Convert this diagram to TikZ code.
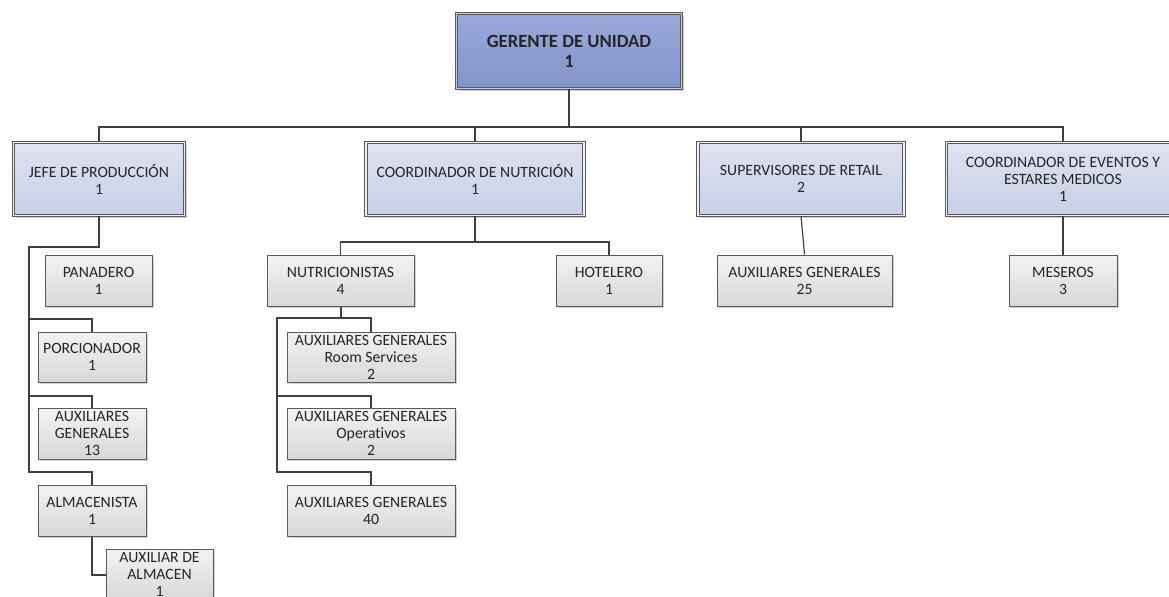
\documentclass[tikz,border=0pt]{standalone}
\usepackage{fontspec}
\setmainfont{Carlito}[Ligatures=NoCommon]
\usetikzlibrary{shadows}
\newdimen\pxu \pxu=0.75pt

\definecolor{lineclr}{HTML}{404040}
\definecolor{borderclr}{HTML}{595959}
\definecolor{topA}{HTML}{9AA9DA}
\definecolor{topB}{HTML}{8394CA}
\definecolor{midA}{HTML}{DFE3F2}
\definecolor{midB}{HTML}{C8CFE7}
\definecolor{lowA}{HTML}{F3F3F3}
\definecolor{lowB}{HTML}{D8D8D8}

\tikzset{
  box/.style={rectangle, inner sep=0pt, align=center, text=black!85,
    font=\fontsize{11.8}{12.75}\selectfont,
    drop shadow={shadow xshift=2\pxu, shadow yshift=-2\pxu, fill=black!35, opacity=0.5}},
  topbox/.style={box, font=\bfseries\fontsize{14}{15}\selectfont,
    top color=topA, bottom color=topB, draw=borderclr, line width=1\pxu,
    double=topA!60!white, double distance=1.5\pxu},
  midbox/.style={box, top color=midA, bottom color=midB, draw=borderclr,
    line width=1\pxu, double=midA!50!white, double distance=1.5\pxu},
  lowbox/.style={box, top color=lowA, bottom color=lowB, draw=borderclr,
    line width=1\pxu},
  bus/.style={draw=lineclr, line width=1.4\pxu},
  tree/.style={draw=lineclr, line width=2\pxu},
  link/.style={draw=lineclr, line width=1.2\pxu},
}

\begin{document}
\begin{tikzpicture}[x=0.75pt, y=-0.75pt]
\useasboundingbox (0,0) rectangle (1169,596);
\clip (0,0) rectangle (1169,596);

% top level
\node[topbox, minimum width=225\pxu, minimum height=75\pxu] (ger) at (569,51)
  {GERENTE DE UNIDAD\\1};

% second level
\node[midbox, minimum width=171\pxu, minimum height=73\pxu] (jefe) at (99,179)
  {JEFE DE PRODUCCIÓN\\1};
\node[midbox, minimum width=218\pxu, minimum height=73\pxu] (cnut) at (475,179)
  {COORDINADOR DE NUTRICIÓN\\1};
\node[midbox, minimum width=206\pxu, minimum height=73\pxu] (sup) at (801,179)
  {SUPERVISORES DE RETAIL\\2};
\node[midbox, minimum width=233\pxu, minimum height=73\pxu] (eve) at (1063,179)
  {COORDINADOR DE EVENTOS Y\\ESTARES MEDICOS\\1};

% production staff
\node[lowbox, minimum width=107\pxu, minimum height=51\pxu] (pan) at (98.5,280.5)
  {PANADERO\\1};
\node[lowbox, minimum width=108\pxu, minimum height=50\pxu] (porc) at (92,357)
  {PORCIONADOR\\1};
\node[lowbox, minimum width=108\pxu, minimum height=51\pxu] (aux13) at (92,433.5)
  {AUXILIARES\\GENERALES\\13};
\node[lowbox, minimum width=108\pxu, minimum height=51\pxu] (alm) at (92,510.5)
  {ALMACENISTA\\1};
\node[lowbox, minimum width=107\pxu, minimum height=51\pxu] (auxalm) at (159.5,574.5)
  {AUXILIAR DE\\ALMACEN\\1};

% nutrition staff
\node[lowbox, minimum width=147\pxu, minimum height=51\pxu] (nutri) at (340.5,280.5)
  {NUTRICIONISTAS\\4};
\node[lowbox, minimum width=106\pxu, minimum height=51\pxu] (hotel) at (609,280.5)
  {HOTELERO\\1};
\node[lowbox, minimum width=168\pxu, minimum height=50\pxu] (room) at (371,357)
  {AUXILIARES GENERALES\\Room Services\\2};
\node[lowbox, minimum width=168\pxu, minimum height=51\pxu] (oper) at (371,433.5)
  {AUXILIARES GENERALES\\Operativos\\2};
\node[lowbox, minimum width=168\pxu, minimum height=51\pxu] (aux40) at (371,510.5)
  {AUXILIARES GENERALES\\40};

% retail and events staff
\node[lowbox, minimum width=175\pxu, minimum height=51\pxu] (aux25) at (804.5,280.5)
  {AUXILIARES GENERALES\\25};
\node[lowbox, minimum width=108\pxu, minimum height=51\pxu] (mes) at (1063,280.5)
  {MESEROS\\3};

% elbow points of the connectors
\coordinate (busy) at (0,127);
\coordinate (jtop) at (29,247);
\coordinate (jporc) at (29,319);
\coordinate (jaux) at (29,396);
\coordinate (jbot) at (29,472);
\coordinate (nbus) at (0,242);
\coordinate (ntop) at (277,318);
\coordinate (nmid) at (277,396);
\coordinate (nbot) at (277,472);

% connectors: manager to heads
\draw[bus] (ger.south) -- (ger.south |- busy);
\draw[bus] (jefe.north) -- (jefe.north |- busy) -| (eve.north);
\draw[bus] (cnut.north) -- (cnut.north |- busy);
\draw[bus] (sup.north) -- (sup.north |- busy);

% connectors: production
\draw[tree] (jefe.south) |- (jtop) -- (jbot) -| (alm.north);
\draw[tree] (jporc) -| (porc.north);
\draw[tree] (jaux) -| (aux13.north);
\draw[tree] (alm.south) |- (auxalm.west);

% connectors: nutrition
\draw[bus] (cnut.south) -- (cnut.south |- nbus);
\draw[bus] (nutri.north) -- (nutri.north |- nbus) -| (hotel.north);
\draw[tree] (nutri.south) |- (ntop) -- (nbot) -| (aux40.north);
\draw[tree] (nutri.south |- ntop) -| (room.north);
\draw[tree] (nmid) -| (oper.north);

% connectors: retail and events
\draw[link] (sup.south) -- (aux25.north);
\draw[link] (eve.south) -- (mes.north);
\end{tikzpicture}
\end{document}
